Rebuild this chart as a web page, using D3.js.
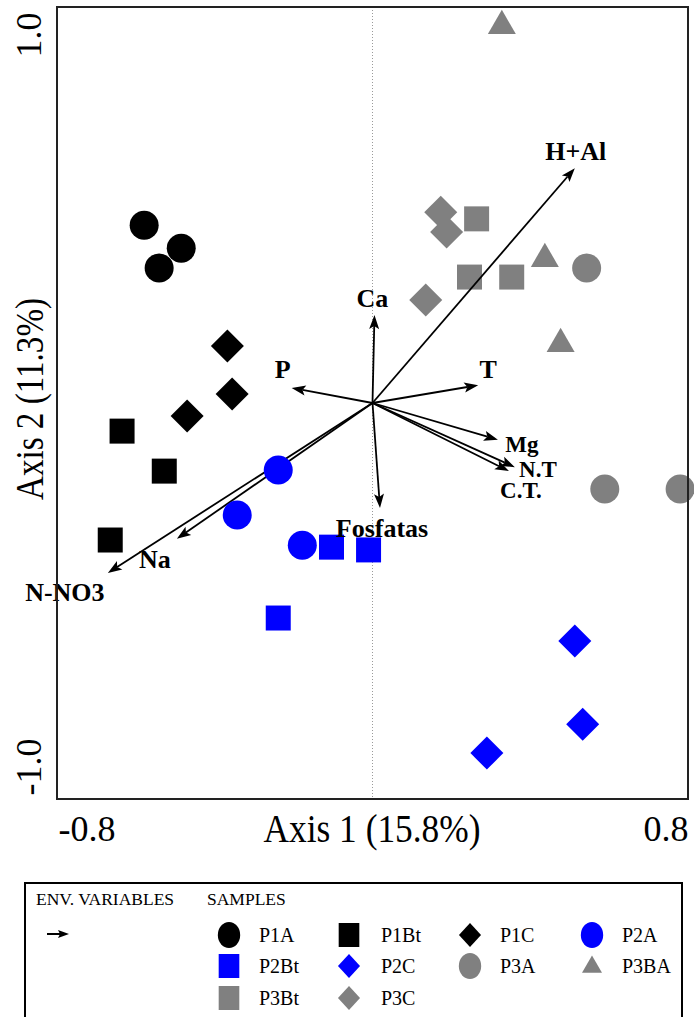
<!DOCTYPE html>
<html>
<head>
<meta charset="utf-8">
<script src="https://cdn.jsdelivr.net/npm/d3@7"></script>
<style>
  html, body { margin: 0; padding: 0; background: #fff; }
  svg { display: block; }
  text { font-family: "Liberation Serif", "Times New Roman", serif; }
</style>
</head>
<body>
<svg id="chart" width="694" height="1017"></svg>
<script>
// ---------- DATA ----------
const groups = ["P1A", "P1Bt", "P1C", "P2A", "P2Bt", "P2C", "P3A", "P3BA", "P3Bt", "P3C"];
const sampleGroup = [
  "P1A","P1A","P1A",
  "P1Bt","P1Bt","P1Bt",
  "P1C","P1C","P1C",
  "P2A","P2A","P2A",
  "P2Bt","P2Bt","P2Bt",
  "P2C","P2C","P2C",
  "P3A","P3A","P3A",
  "P3BA","P3BA","P3BA",
  "P3Bt","P3Bt","P3Bt",
  "P3C","P3C","P3C"
];
const sampleAxis1 = [
  -0.579, -0.485, -0.541,
  -0.635, -0.528, -0.665,
  -0.368, -0.356, -0.470,
  -0.239, -0.343, -0.178,
  -0.104, -0.010, -0.239,
   0.513,  0.533,  0.290,
   0.543,  0.589,  0.780,
   0.328,  0.437,  0.477,
   0.264,  0.246,  0.353,
   0.173,  0.188,  0.135
];
const sampleAxis2 = [
   0.449,  0.391,  0.341,
  -0.071, -0.172, -0.346,
   0.144,  0.023, -0.033,
  -0.169, -0.283, -0.359,
  -0.364, -0.371, -0.543,
  -0.601, -0.811, -0.884,
   0.341, -0.217, -0.217,
   0.957,  0.369,  0.154,
   0.465,  0.318,  0.318,
   0.482,  0.432,  0.260
];
const envNames = ["H+Al", "Ca", "P", "T", "Mg", "N.T", "C.T.", "Fosfatas", "Na", "N-NO3"];
const envAxis1 = [0.513, 0.005, -0.205, 0.268, 0.318, 0.361, 0.346, 0.019, -0.496, -0.671];
const envAxis2 = [0.593, 0.222,  0.038, 0.045, -0.093, -0.162, -0.172, -0.265, -0.343, -0.429];
const xTicks = [-0.8, 0.8];
const yTicks = [-1.0, 1.0];
const xTickLabels = ["-0.8", "0.8"];
const yTickLabels = ["-1.0", "1.0"];
const xTitle = "Axis 1 (15.8%)";
const yTitle = "Axis 2 (11.3%)";

// ---------- STYLES ----------
const groupShape = {
  "P1A": "circle", "P1Bt": "square", "P1C": "diamond", "P2A": "circle", "P2Bt": "square",
  "P2C": "diamond", "P3A": "circle", "P3BA": "triangle", "P3Bt": "square", "P3C": "diamond"
};
const groupColor = {
  "P1A": "#000000", "P1Bt": "#000000", "P1C": "#000000",
  "P2A": "#0000ff", "P2Bt": "#0000ff", "P2C": "#0000ff",
  "P3A": "#808080", "P3BA": "#808080", "P3Bt": "#808080", "P3C": "#808080"
};
// label offsets (px) relative to arrow tip: [dx, dy, fontSize] (center x, baseline y)
const labelOffset = {
  "H+Al": [1, -8, 26], "Ca": [-2, -8, 26], "P": [-9, -10, 26], "T": [10, -7, 26], "Mg": [24, 12, 23],
  "N.T": [23, 10, 23], "C.T.": [12, 27, 23], "Fosfatas": [2, 29, 26], "Na": [-22, 29, 26], "N-NO3": [-43, 28, 26]
};

const svg = d3.select("#chart");
const L = 57, R = 688, T = 7, B = 799;
const x = d3.scaleLinear().domain([-0.8, 0.8]).range([L, R]);
const y = d3.scaleLinear().domain([-1, 1]).range([B, T]);

function shapePath(shape, s) {
  if (shape === "circle") return d3.symbol().type(d3.symbolCircle).size(Math.PI * (s / 2) * (s / 2))();
  if (shape === "square") return d3.symbol().type(d3.symbolSquare).size(s * s)();
  if (shape === "diamond") return d3.symbol().type(d3.symbolSquare).size(s * s / 2)();
  if (shape === "triangle") return d3.symbol().type(d3.symbolTriangle).size(Math.sqrt(3) / 4 * s * s)();
}
const plotSize = { circle: 29, square: 25, diamond: 33, triangle: 28 };

// ---------- FRAME ----------
svg.append("line")
  .attr("x1", x(0)).attr("x2", x(0)).attr("y1", T).attr("y2", B)
  .attr("stroke", "#9a9a9a").attr("stroke-width", 1).attr("stroke-dasharray", "1,2");

const samples = sampleGroup.map((g, i) => ({ g, a1: sampleAxis1[i], a2: sampleAxis2[i] }));
function drawSamples(sel, data) {
  sel.selectAll("path").data(data).join("path")
    .attr("d", d => shapePath(groupShape[d.g], plotSize[groupShape[d.g]]))
    .attr("transform", d => {
      const sh = groupShape[d.g];
      let t = `translate(${x(d.a1)},${y(d.a2)})`;
      if (sh === "diamond") t += " rotate(45)";
      if (sh === "triangle") t = `translate(${x(d.a1)},${y(d.a2) + 2})`;
      return t;
    })
    .attr("fill", d => groupColor[d.g]);
}
// P3 samples lie under the arrows, P1/P2 samples over them
drawSamples(svg.append("g"), samples.filter(d => d.g.startsWith("P3")));

// ---------- ARROWS ----------
const env = envNames.map((n, i) => ({ n, a1: envAxis1[i], a2: envAxis2[i] }));
const ag = svg.append("g");
env.forEach(d => {
  const x0 = x(0), y0 = y(0), x1 = x(d.a1), y1 = y(d.a2);
  const ang = Math.atan2(y1 - y0, x1 - x0);
  const hl = 14, hw = 5;
  const bx = x1 - hl * Math.cos(ang), by = y1 - hl * Math.sin(ang);
  ag.append("line").attr("x1", x0).attr("y1", y0).attr("x2", bx + 3 * Math.cos(ang)).attr("y2", by + 3 * Math.sin(ang))
    .attr("stroke", "#000").attr("stroke-width", 1.8);
  ag.append("path")
    .attr("d", `M${x1},${y1}L${bx - hw * Math.sin(ang)},${by + hw * Math.cos(ang)}L${bx + 3 * Math.cos(ang)},${by + 3 * Math.sin(ang)}L${bx + hw * Math.sin(ang)},${by - hw * Math.cos(ang)}Z`)
    .attr("fill", "#000");
});

drawSamples(svg.append("g"), samples.filter(d => !d.g.startsWith("P3")));

const lblG = svg.append("g");
env.forEach(d => {
  const o = labelOffset[d.n];
  lblG.append("text").attr("x", x(d.a1) + o[0]).attr("y", y(d.a2) + o[1])
    .attr("text-anchor", "middle").attr("font-weight", "bold").attr("font-size", o[2])
    .attr("fill", "#000").text(d.n);
});

// border
svg.append("rect").attr("x", L).attr("y", T).attr("width", R - L).attr("height", B - T)
  .attr("fill", "none").attr("stroke", "#222").attr("stroke-width", 2);

// ---------- AXES ----------
const xAxis = svg.append("g").attr("transform", `translate(0,${B})`)
  .call(d3.axisBottom(x).tickValues(xTicks).tickSize(0).tickFormat((d, i) => xTickLabels[i]));
xAxis.select(".domain").remove();
xAxis.selectAll("text")
  .attr("font-size", 36).attr("fill", "#000")
  .attr("y", 42).attr("dy", 0)
  .attr("text-anchor", (d, i) => i === 0 ? "start" : "end")
  .attr("x", (d, i) => i === 0 ? 1 : 0);

const yAxis = svg.append("g").attr("transform", `translate(${L},0)`)
  .call(d3.axisLeft(y).tickValues(yTicks).tickSize(0).tickFormat((d, i) => yTickLabels[i]));
yAxis.select(".domain").remove();
yAxis.selectAll(".tick").each(function (d, i) {
  const t = d3.select(this).select("text");
  t.attr("font-size", 36).attr("fill", "#000")
    .attr("x", 0).attr("y", 0).attr("dy", 0)
    .attr("text-anchor", i === 0 ? "start" : "end")
    .attr("transform", `translate(-16,${i === 0 ? -4 : 5}) rotate(-90)`);
});

svg.append("text").attr("x", 372).attr("y", 842).attr("text-anchor", "middle")
  .attr("font-size", 39).attr("textLength", 217).attr("lengthAdjust", "spacingAndGlyphs")
  .attr("fill", "#000").text(xTitle);
svg.append("text").attr("transform", "translate(43,399) rotate(-90)").attr("text-anchor", "middle")
  .attr("font-size", 39).attr("textLength", 202).attr("lengthAdjust", "spacingAndGlyphs")
  .attr("fill", "#000").text(yTitle);

// ---------- LEGEND ----------
const lg = svg.append("g");
lg.append("rect").attr("x", 25).attr("y", 883).attr("width", 657).attr("height", 160)
  .attr("fill", "none").attr("stroke", "#000").attr("stroke-width", 2);
lg.append("text").attr("x", 36).attr("y", 905).attr("font-size", 17.5).attr("fill", "#000").text("ENV. VARIABLES");
lg.append("text").attr("x", 207).attr("y", 905).attr("font-size", 17.5).attr("fill", "#000").text("SAMPLES");
lg.append("line").attr("x1", 47).attr("x2", 60).attr("y1", 934).attr("y2", 934).attr("stroke", "#000").attr("stroke-width", 2);
lg.append("path").attr("d", "M69,934L58,930L60,934L58,938Z").attr("fill", "#000");

const colSym = [229, 349, 470, 592];
const colLab = [259, 381, 500, 622];
const rowY = [935, 966, 998];
const legSize = { circle: 26, square: 24, diamond: 24, triangle: 20 };
groups.forEach((g, i) => {
  const c = i % 4, r = Math.floor(i / 4);
  const sh = groupShape[g];
  let tr = `translate(${colSym[c]},${rowY[r]})`;
  if (sh === "diamond") tr += " scale(0.92,1) rotate(45)";
  else if (sh === "triangle") tr = `translate(${colSym[c]},${rowY[r] + 1})`;
  else tr += " scale(0.86,1)";
  lg.append("path").attr("d", shapePath(sh, legSize[sh])).attr("transform", tr).attr("fill", groupColor[g]);
  lg.append("text").attr("x", colLab[c]).attr("y", rowY[r] + 7).attr("font-size", 20).attr("fill", "#000").text(g);
});
</script>
</body>
</html>
